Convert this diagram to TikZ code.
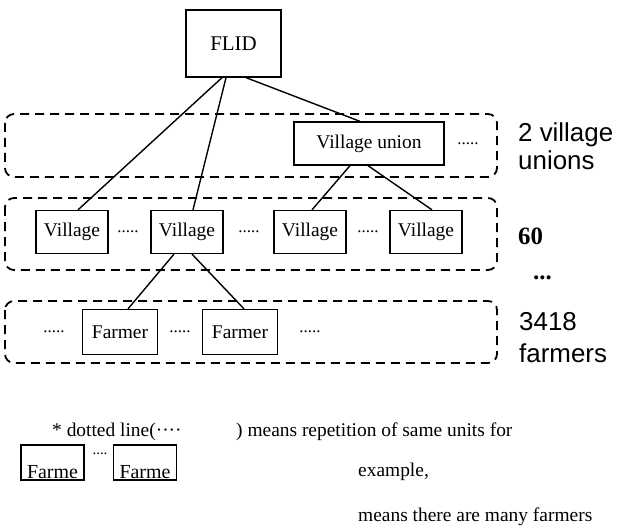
\documentclass[tikz,border=0pt]{standalone}
\usepackage{fontspec}
\setmainfont{Liberation Serif}
\newfontfamily\labelfont{Liberation Sans}
\usetikzlibrary{positioning}

\begin{document}
\begin{tikzpicture}[x=1bp,y=-1bp,
    unit/.style={draw, line width=1.3bp, minimum width=72bp, minimum height=43bp, inner sep=2bp, font=\fontsize{19.5}{22}\selectfont},
    level/.style={draw, line width=1.8bp, dash pattern=on 9bp off 6bp, rounded corners=9bp},
    link/.style={line width=1.4bp},
    more/.style={inner sep=0pt, font=\fontsize{17}{17}\selectfont},
    count/.style={anchor=base west, inner sep=0pt, font=\labelfont\fontsize{26}{28}\selectfont},
    note/.style={anchor=base west, inner sep=0pt, font=\fontsize{19.5}{22}\selectfont},
    example/.style={draw, line width=1.8bp, minimum width=63bp, inner xsep=4bp, inner ysep=0pt, text height=33bp, text depth=2bp, font=\fontsize{20}{22}\selectfont}]
    \useasboundingbox (0,0) rectangle (623,532);
    % the three levels
    \draw[level] (5,114) rectangle (497,177);
    \draw[level] (5,198) rectangle (497,270);
    \draw[level] (5,301) rectangle (497,363);
    % units
    \node[unit, minimum width=95bp, minimum height=67bp, font=\fontsize{21}{24}\selectfont] (flid) at (233.5,43.5) {FLID};
    \node[unit, minimum width=150bp] (union) at (369,143.5) {Village union};
    \node[more] (uniondots) at (468,143.5) {.....};
    \node[unit] (v1) at (72,232) {Village};
    \node[unit] (v2) at (187,232) {Village};
    \node[unit] (v3) at (310,232) {Village};
    \node[unit] (v4) at (426,232) {Village};
    \node[more] (vdots1) at (128,232) {.....};
    \node[more] (vdots2) at (249,232) {.....};
    \node[more] (vdots3) at (368,232) {.....};
    \node[unit, minimum width=75bp, minimum height=45bp] (f1) at (120,332) {Farmer};
    \node[unit, minimum width=75bp, minimum height=45bp] (f2) at (240,332) {Farmer};
    \node[more] (fdots1) at (54,332) {.....};
    \node[more] (fdots2) at (180,332) {.....};
    \node[more] (fdots3) at (310,332) {.....};
    % links
    \draw[link] ([xshift=-11.5bp]flid.south) -- ([xshift=6bp]v1.north);
    \draw[link] ([xshift=-7.5bp]flid.south) -- ([xshift=6bp]v2.north);
    \draw[link] ([xshift=12.5bp]flid.south) -- ([xshift=-9bp]union.north);
    \draw[link] ([xshift=-19bp]union.south) -- ([xshift=2bp]v3.north);
    \draw[link] ([xshift=-1bp]union.south) -- ([xshift=6bp]v4.north);
    \draw[link] ([xshift=-13bp]v2.south) -- ([xshift=8bp]f1.north);
    \draw[link] ([xshift=5bp]v2.south) -- ([xshift=4bp]f2.north);
    % counts
    \node[count] (nunion) at (518,142) {2 village};
    \node[count] (nunion2) at (518,170) {unions};
    \node[count, font=\bfseries\fontsize{25}{28}\selectfont] (nvillage) at (518,245) {60};
    \node[count, font=\bfseries\fontsize{25}{28}\selectfont] (nmore) at (533,279) {...};
    \node[count] (nfarmer) at (519,330) {3418};
    \node[count] (nfarmer2) at (519,362) {farmers};
    % note
    \node[note] (note1) at (52,436) {* dotted line(····};
    \node[note] (note2) at (236,436) {) means repetition of same units for};
    \node[example, anchor=south] (ex1) at (52.5,481) {Farme};
    \node[more, font=\fontsize{15}{15}\selectfont] (exdots) at (100,454) {....};
    \node[example, anchor=south] (ex2) at (145,481) {Farme};
    \node[note] (note3) at (358,476) {example,};
    \node[note] (note4) at (358,521) {means there are many farmers};
\end{tikzpicture}
\end{document}
